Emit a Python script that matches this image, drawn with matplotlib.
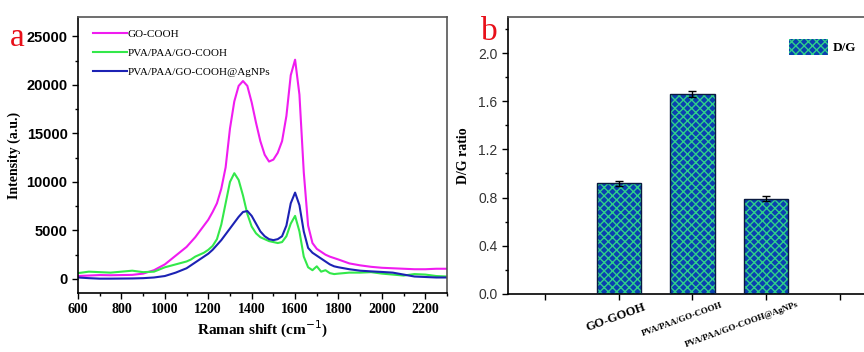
import matplotlib
matplotlib.use("Agg")
import matplotlib.pyplot as plt
from matplotlib.ticker import MultipleLocator
from matplotlib.transforms import ScaledTranslation

# Raman shift (cm-1)
shift = [600, 650, 700, 750, 800, 850, 900, 950, 1000, 1050, 1100,
         1120, 1140, 1160, 1180, 1200, 1220, 1240, 1260, 1280, 1300,
         1320, 1340, 1360, 1380, 1400, 1420, 1440, 1460, 1480, 1500,
         1520, 1540, 1560, 1580, 1600, 1620, 1640, 1660, 1680, 1700,
         1720, 1740, 1760, 1780, 1800,
         1850, 1900, 1950, 2000, 2050, 2100, 2150, 2200, 2250, 2300]

go_cooh = [300, 350, 400, 380, 400, 420, 550, 900, 1500, 2400, 3300,
           3800, 4300, 4900, 5500, 6100, 6900, 7800, 9300, 11500, 15500,
           18300, 19900, 20400, 19900, 18200, 16100, 14200, 12800, 12100, 12300,
           13000, 14200, 16800, 21000, 22600, 19000, 11000, 5500, 3700, 3100,
           2800, 2500, 2300, 2150, 2000,
           1600, 1400, 1250, 1150, 1100, 1050, 1000, 1000, 1050, 1050]

pva_paa = [600, 750, 700, 650, 750, 850, 700, 750, 1200, 1500, 1800,
           2000, 2300, 2500, 2700, 3000, 3400, 4100, 5600, 7800, 10000,
           10900, 10200, 8600, 6700, 5400, 4700, 4300, 4100, 3900, 3800,
           3700, 3800, 4400, 5700, 6500, 4900, 2300, 1200, 900, 1300,
           750, 900, 600, 500, 550,
           650, 650, 700, 550, 450, 350, 500, 450, 300, 250]

pva_paa_ag = [150, 80, 30, 30, 40, 50, 80, 150, 300, 650, 1100,
              1400, 1700, 2000, 2300, 2600, 3000, 3500, 4000, 4600, 5200,
              5800, 6400, 6900, 7000, 6500, 5700, 4900, 4400, 4100, 4000,
              4100, 4400, 5500, 7800, 8900, 7600, 4900, 3200, 2700, 2400,
              2100, 1800, 1500, 1300, 1200,
              1000, 850, 780, 720, 650, 450, 250, 200, 150, 150]

# D/G ratio bars
bar_labels = ["GO-GOOH", "PVA/PAA/GO-COOH", "PVA/PAA/GO-COOH@AgNPs"]
dg_ratio = [0.92, 1.66, 0.79]
dg_err = [0.02, 0.025, 0.02]

serif = "Liberation Serif"
sans = "Liberation Sans"

fig = plt.figure(figsize=(8.64, 3.52), dpi=100)
ax1 = fig.add_axes([0.0903, 0.1676, 0.4271, 0.7841])
ax2 = fig.add_axes([0.588, 0.165, 0.427, 0.7869])

# ---- panel a
ax1.plot(shift, go_cooh, color="#f01cf0", lw=1.5, label="GO-COOH")
ax1.plot(shift, pva_paa, color="#33e84a", lw=1.5, label="PVA/PAA/GO-COOH")
ax1.plot(shift, pva_paa_ag, color="#1c22b4", lw=1.5, label="PVA/PAA/GO-COOH@AgNPs")
ax1.set_xlim(600, 2300)
ax1.set_ylim(-1450, 27000)
ax1.xaxis.set_major_locator(MultipleLocator(200))
ax1.xaxis.set_minor_locator(MultipleLocator(100))
ax1.yaxis.set_major_locator(MultipleLocator(5000))
ax1.yaxis.set_minor_locator(MultipleLocator(2500))
ax1.tick_params(which="both", direction="out", top=False, right=False)
ax1.tick_params(which="major", length=4, width=1)
ax1.tick_params(which="minor", length=2.5, width=1)
for t in ax1.get_xticklabels():
    t.set_fontfamily(serif)
    t.set_fontweight("bold")
    t.set_fontsize(10)
for t in ax1.get_yticklabels():
    t.set_fontfamily(sans)
    t.set_fontweight("bold")
    t.set_fontsize(10.5)
ax1.set_xlabel("Raman shift (cm$^{-1}$)", fontfamily=serif, fontweight="bold",
               fontsize=11, labelpad=2)
ax1.set_ylabel("Intensity (a.u.)", fontfamily=serif, fontweight="bold",
               fontsize=10, labelpad=4)
for s in ax1.spines.values():
    s.set_linewidth(1.2)
ax1.spines["top"].set_color("#555555")
ax1.spines["right"].set_color("#555555")
ax1.legend(loc="upper left", frameon=False, prop={"family": serif, "size": 8},
           handlelength=3.0, handletextpad=0.1, labelspacing=0.85,
           borderaxespad=0.3, bbox_to_anchor=(0.02, 0.985))

# ---- panel b
x = [1, 2, 3]
ax2.bar(x, dg_ratio, width=0.6, color="#0b3fb0", edgecolor="#2fd08a",
        hatch="xxxx", linewidth=0, label="D/G", zorder=2)
ax2.bar(x, dg_ratio, width=0.6, fill=False, edgecolor="#0a1a40",
        linewidth=1.0, zorder=3)
ax2.errorbar(x, dg_ratio, yerr=dg_err, fmt="none", ecolor="black",
             capsize=3, elinewidth=1, zorder=4)
ax2.set_xlim(-0.5, 4.5)
ax2.set_ylim(0, 2.3)
ax2.set_xticks([0, 1, 2, 3, 4])
ax2.set_xticklabels(["", bar_labels[0], bar_labels[1], bar_labels[2], ""])
ax2.yaxis.set_major_locator(MultipleLocator(0.4))
ax2.yaxis.set_minor_locator(MultipleLocator(0.2))
ax2.tick_params(which="both", direction="out", top=False, right=False)
ax2.tick_params(which="major", length=4, width=1)
ax2.tick_params(which="minor", length=2.5, width=1)
ax2.tick_params(axis="x", pad=1)
ax2.set_yticks([0.0, 0.4, 0.8, 1.2, 1.6, 2.0])
ax2.set_yticklabels(["0.0", "0.4", "0.8", "1.2", "1.6", "2.0"],
                    fontfamily=sans, fontsize=10, color="#333333")
shifts = [0, -3, -10, -24, 0]
for i, t in enumerate(ax2.get_xticklabels()):
    t.set_fontfamily(serif)
    t.set_fontweight("bold")
    t.set_rotation(20)
    t.set_ha("center")
    t.set_fontsize(9 if i == 1 else 6.5)
    t.set_transform(t.get_transform() +
                    ScaledTranslation(shifts[i] / 100, 0, fig.dpi_scale_trans))
ax2.set_ylabel("D/G ratio", fontfamily=serif, fontweight="bold", fontsize=10,
               labelpad=6)
for s in ax2.spines.values():
    s.set_linewidth(1.2)
ax2.spines["top"].set_color("#555555")
ax2.legend(loc="upper right", frameon=False,
           prop={"family": serif, "size": 9.5, "weight": "bold"},
           handlelength=3.0, handleheight=1.5, handletextpad=0.3,
           bbox_to_anchor=(0.975, 0.965))

fig.text(0.012, 0.87, "a", color="#e8101a", fontsize=24, fontfamily=serif)
fig.text(0.557, 0.885, "b", color="#e8101a", fontsize=24, fontfamily=serif)

fig.savefig("out.png", dpi=100)
